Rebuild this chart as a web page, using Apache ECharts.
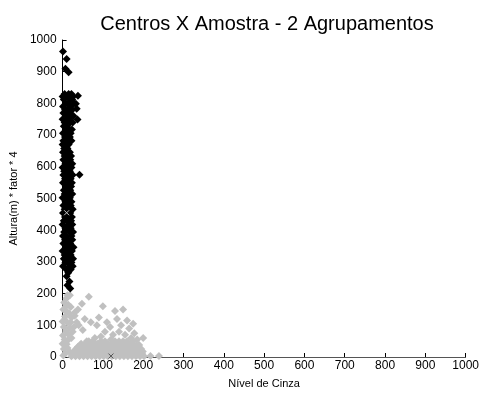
<!DOCTYPE html>
<html>
<head>
<meta charset="utf-8">
<script src="https://cdn.jsdelivr.net/npm/echarts@6/dist/echarts.min.js"></script>
<style>
  html, body { margin: 0; padding: 0; background: #fff; }
  #chart { width: 482px; height: 394px; }
</style>
</head>
<body>
<div id="chart"></div>
<script>
// grupo 1 (preto): nivel de cinza baixo, altura alta
const blackPts = [
  [1,964],[10,940],[7,909],[15,898],[38,824],[33,799],[35,783],[37,749],[42,575],
  [5,830],[15,830],[22,830],[0,822],[10,822],[26,822],[3,812],[18,812],[24,812],
  [8,800],[14,800],[28,800],[1,790],[20,790],[6,780],[12,780],[24,780],[2,770],[17,770],
  [9,760],[22,760],[27,760],[0,750],[14,750],[5,740],[19,740],[25,740],[3,728],[11,728],
  [8,718],[16,718],[23,718],[1,706],[13,706],[20,706],[6,694],[18,694],[2,682],[10,682],[22,682],
  [0,670],[7,670],[15,670],[4,658],[12,658],[1,646],[9,646],[18,646],[5,634],[14,634],[21,634],
  [2,622],[11,622],[19,622],[7,610],[16,610],[24,610],[0,598],[12,598],[22,598],
  [4,586],[9,586],[18,586],[2,574],[14,574],[25,574],[6,562],[11,562],[20,562],
  [1,550],[16,550],[23,550],[8,538],[13,538],[21,538],[3,526],[10,526],[19,526],
  [5,514],[15,514],[24,514],[0,502],[9,502],[18,502],[7,490],[13,490],[22,490],
  [2,478],[11,478],[20,478],[5,466],[16,466],[25,466],[1,454],[8,454],[19,454],
  [6,442],[13,442],[23,442],[3,430],[10,430],[21,430],[0,418],[15,418],[24,418],
  [7,406],[12,406],[20,406],[4,394],[17,394],[26,394],[1,382],[9,382],[22,382],
  [6,370],[14,370],[24,370],[2,358],[11,358],[19,358],[8,346],[16,346],[27,346],
  [0,334],[13,334],[23,334],[5,322],[10,322],[20,322],[3,310],[15,310],[26,310],
  [7,298],[12,298],[22,298],[1,286],[18,286],[25,286],[9,276],[20,276],
  [14,266],[10,255],[17,238],[12,226],[19,216]
];

// grupo 2 (cinza): altura baixa
const grayPts = [
  [18,195],[10,185],[4,172],[14,165],[20,158],[2,150],[9,145],[16,138],[6,128],[22,125],
  [0,112],[12,108],[3,95],[18,92],[8,82],[1,68],[14,72],[5,55],[0,42],[10,40],[3,25],[7,12],[2,5],
  [8,160],[12,195],[5,118],[20,110],[15,55],[22,60],[12,28],[18,15],
  [30,140],[35,110],[28,95],
  [65,190],[48,168],[38,150],[30,130],[55,120],[40,100],[25,80],[50,85],[70,110],[85,100],
  [90,125],[100,160],[110,110],[118,95],[130,145],[135,120],[150,150],[145,100],[160,115],
  [165,90],[175,105],[178,75],[185,55],[190,38],[170,60],[155,70],[140,80],[125,70],
  [105,80],[95,65],[80,60],[65,50],[120,55],[150,50],[200,60],[195,25],
  [22,2],[32,2],[42,2],[52,2],[62,2],[72,2],[82,2],[92,2],[102,2],[112,2],[122,2],[132,2],
  [142,2],[152,2],[162,2],[172,2],[182,2],[192,2],[202,2],
  [24,7],[34,7],[44,7],[54,7],[64,7],[74,7],[84,7],[94,7],[104,7],[114,7],[124,7],[134,7],
  [144,7],[154,7],[164,7],[174,7],[184,7],[194,7],
  [26,12],[36,12],[46,12],[57,12],[67,12],[77,12],[87,12],[97,12],[107,12],[117,12],[127,12],
  [137,12],[147,12],[157,12],[167,12],[177,12],[187,12],[197,12],
  [28,17],[38,17],[48,17],[59,17],[69,17],[79,17],[89,17],[99,17],[109,17],[119,17],[129,17],
  [139,17],[149,17],[159,17],[169,17],[179,17],[189,17],[199,17],
  [31,22],[41,22],[51,22],[61,22],[71,22],[81,22],[91,22],[101,22],[111,22],[121,22],[131,22],
  [141,22],[151,22],[161,22],[171,22],[181,22],[191,22],
  [35,27],[45,27],[55,27],[65,27],[75,27],[85,27],[95,27],[105,27],[115,27],[125,27],[135,27],
  [145,27],[155,27],[165,27],[175,27],[185,27],
  [38,32],[49,32],[59,32],[69,32],[79,32],[89,32],[99,32],[109,32],[119,32],[129,32],[139,32],
  [149,32],[159,32],[169,32],[179,32],[188,32],
  [43,37],[54,37],[64,37],[74,37],[84,37],[94,37],[104,37],[114,37],[124,37],[134,37],[144,37],
  [154,37],[164,37],[174,37],[183,37],
  [46,42],[58,42],[72,42],[86,42],[98,42],[112,42],[124,42],[136,42],[148,42],[158,42],[170,42],
  [60,50],[75,50],[95,50],[105,50],[130,50],[140,50],[160,50],[175,50],
  [218,3],[239,3]
];

// centros dos agrupamentos
const centroPreto = [[10,455]];
const centroCinza = [[120,3]];

const xTicks = [0, 1000, 100];
const yTicks = [0, 1000, 100];

const chart = echarts.init(document.getElementById('chart'));
const font = 'Arial, "Liberation Sans", sans-serif';
const xMark = 'path://M0,0L10,10M10,0L0,10';

const option = {
  animation: false,
  backgroundColor: '#fff',
  title: {
    text: 'Centros X Amostra - 2 Agrupamentos',
    left: 262,
    textAlign: 'center',
    top: 9,
    textStyle: { fontFamily: font, fontSize: 20, fontWeight: 'normal', color: '#000' }
  },
  grid: { left: 59, right: 15, top: 40, bottom: 32 },
  xAxis: {
    type: 'value',
    min: xTicks[0], max: xTicks[1], interval: xTicks[2],
    name: 'Nível de Cinza',
    nameLocation: 'middle',
    nameGap: 21,
    nameTextStyle: { fontFamily: font, fontSize: 11, color: '#000' },
    axisLine: { lineStyle: { color: '#555', width: 1 } },
    axisTick: { inside: true, length: 4, lineStyle: { color: '#000' } },
    axisLabel: { fontFamily: font, fontSize: 12, color: '#000', margin: 3, formatter: v => String(v) },
    splitLine: { show: false }
  },
  yAxis: {
    type: 'value',
    min: yTicks[0], max: yTicks[1], interval: yTicks[2],
    name: 'Altura(m) * fator * 4',
    nameLocation: 'middle',
    nameGap: 41,
    nameTextStyle: { fontFamily: font, fontSize: 11, color: '#000' },
    axisLine: { lineStyle: { color: '#000', width: 1 } },
    axisTick: { inside: true, length: 4, lineStyle: { color: '#000' } },
    axisLabel: { fontFamily: font, fontSize: 12, color: '#000', margin: 6, formatter: v => String(v) },
    splitLine: { show: false }
  },
  series: [
    {
      type: 'scatter',
      data: grayPts,
      symbol: 'diamond',
      symbolSize: 8,
      itemStyle: { color: '#c0c0c0', opacity: 1 }
    },
    {
      type: 'scatter',
      data: blackPts,
      symbol: 'diamond',
      symbolSize: 8,
      itemStyle: { color: '#000', opacity: 1 }
    },
    {
      type: 'scatter',
      data: centroPreto,
      symbol: xMark,
      symbolSize: 5,
      z: 5,
      itemStyle: { color: 'none', borderColor: '#c8c8c8', borderWidth: 1, opacity: 1 }
    },
    {
      type: 'scatter',
      data: centroCinza,
      symbol: xMark,
      symbolSize: 5,
      z: 5,
      itemStyle: { color: 'none', borderColor: '#555', borderWidth: 1, opacity: 1 }
    }
  ]
};

chart.setOption(option);
window.addEventListener('resize', () => chart.resize());
</script>
</body>
</html>
